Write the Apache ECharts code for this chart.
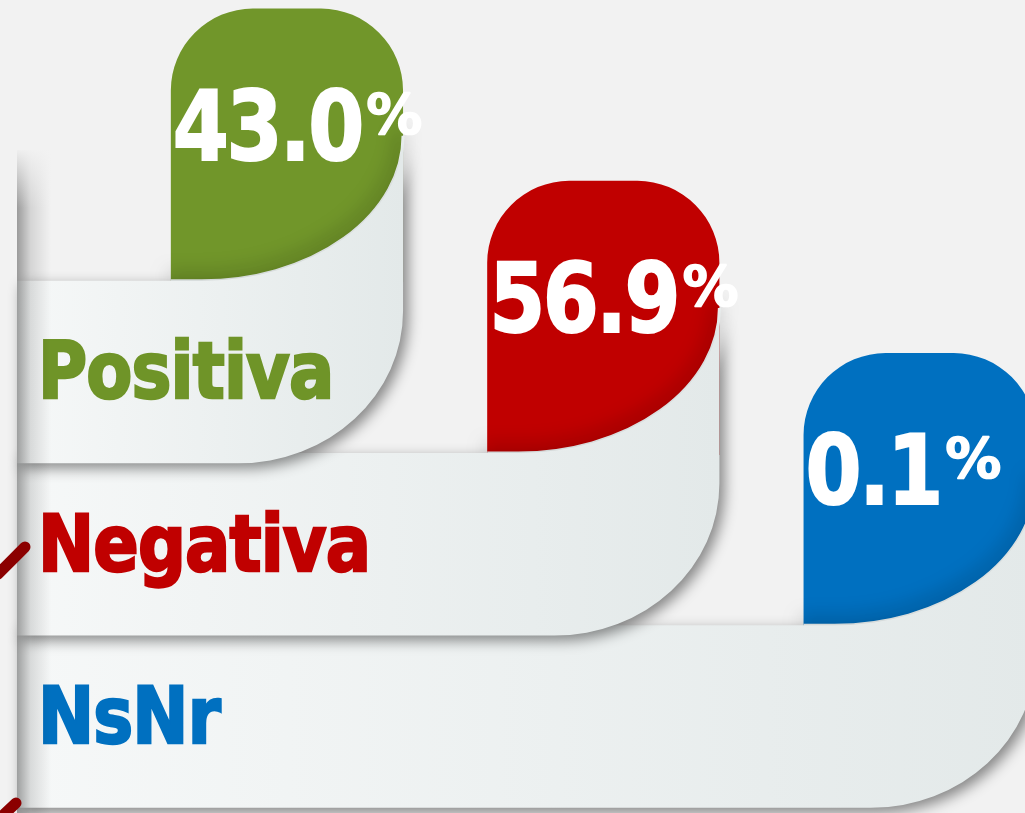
<!DOCTYPE html>
<html><head><meta charset="utf-8">
<script src="https://cdn.jsdelivr.net/npm/echarts@6/dist/echarts.min.js"></script>
<style>html,body{margin:0;padding:0;background:#f2f2f2}#c{width:1025px;height:813px}</style>
</head><body><div id="c"></div>
<script>
const categories = ['Positiva', 'Negativa', 'NsNr'];
const values = [43.0, 56.9, 0.1];
const valueSuffix = '%';
const tabColors = ['#71962a', '#c00000', '#0070c0'];
const labelColors = ['#6f9428', '#c00000', '#0070c0'];

const FONT = '"DejaVu Sans", Verdana, sans-serif';
const SPINE_X = 17;
const mctx = document.createElement('canvas').getContext('2d');

// text drawn char by char with tighter spacing and horizontal squeeze (Tahoma-like look)
function spaced(str, x, y, size, spacing, scaleX, style) {
  const font = 'bold ' + size + 'px ' + FONT;
  mctx.font = font;
  const children = [];
  let cx = 0;
  for (const ch of str) {
    children.push({type: 'text', style: Object.assign({text: ch, x: cx, y: y, font: font, align: 'left', verticalAlign: 'middle'}, style)});
    cx += mctx.measureText(ch).width + spacing;
  }
  return {el: {type: 'group', x: x, y: 0, scaleX: scaleX, children: children}, end: x + (cx - spacing) * scaleX};
}

function renderItem(params, api) {
  const i = api.value(0), row = api.value(1), v = api.value(2);
  const p = api.coord([i, row]);
  const tabL = p[0], yc = p[1];
  const sz = api.size([1, 1]);
  const sx = sz[0], sy = sz[1];
  const tabW = sx * 0.734;
  const R = tabL + tabW;
  const half = sy * 0.53;
  const pT = yc - half, pB = yc + half;
  const tabT = yc - sy * 2.11;
  const L = SPINE_X;
  const cxE = tabL + 31, rx = R - cxE, ry = 145, cyE = pT - ry;
  const crx = 165, cry = 152;

  const children = [];
  children.push({type: 'rect', shape: {x: tabL, y: tabT, width: tabW, height: pT - tabT + 2, r: [82, 82, 0, 0]},
    style: {fill: tabColors[i]}});
  children.push({type: 'path', shape: {pathData: `M ${tabL} ${pT} L ${cxE} ${pT} A ${rx} ${ry} 0 0 0 ${R} ${cyE}`},
    style: {fill: 'none', stroke: '#e8eded', lineWidth: 3, shadowBlur: 18, shadowColor: 'rgba(0,0,0,0.6)', shadowOffsetX: -3, shadowOffsetY: -5}});
  children.push({type: 'path', shape: {pathData:
    `M ${L} ${pT} L ${cxE} ${pT} A ${rx} ${ry} 0 0 0 ${R} ${cyE} L ${R} ${pB - cry} A ${crx} ${cry} 0 0 1 ${R - crx} ${pB} L ${L} ${pB} Z`},
    style: {fill: new echarts.graphic.LinearGradient(0, 0, 1, 0, [{offset: 0, color: '#f6f8f8'}, {offset: 1, color: '#e3e9e9'}]),
      shadowBlur: 14, shadowColor: 'rgba(0,0,0,0.45)', shadowOffsetX: 5, shadowOffsetY: 5}});

  const lab = spaced(categories[i], 38, yc + 29 - 23, 78, -1, 0.86,
    {fill: labelColors[i], stroke: labelColors[i], lineWidth: 2.5, lineJoin: 'round'});
  children.push(lab.el);

  const numBase = yc - 208;
  const shadow = {fill: '#ffffff', stroke: '#ffffff', lineWidth: 2, lineJoin: 'round',
    shadowBlur: 4, shadowColor: 'rgba(0,0,0,0.5)', shadowOffsetX: 3, shadowOffsetY: 3};
  const num = spaced(v.toFixed(1), tabL + 2, numBase - 29, 96, -3, 0.84, shadow);
  children.push(num.el);
  const pct = spaced(valueSuffix, num.end + 2, numBase - 46, 56, 0, 1,
    Object.assign({}, shadow, {lineWidth: 1.5}));
  children.push(pct.el);

  return {type: 'group', children: children};
}

const data = categories.map((c, i) => [i, i, values[i]]).reverse();

const chart = echarts.init(document.getElementById('c'), null, {renderer: 'canvas'});
chart.setOption({
  backgroundColor: '#f2f2f2',
  animation: false,
  grid: {left: 0, right: 0, top: 0, bottom: 0},
  xAxis: {type: 'value', min: -0.54, max: 2.70, show: false},
  yAxis: {type: 'value', inverse: true, min: -2.16, max: 2.56, show: false},
  series: [{type: 'custom', renderItem: renderItem, data: data, clip: false}],
  graphic: [
    {type: 'rect', z: 100, shape: {x: SPINE_X, y: 150, width: 34, height: 663},
      style: {fill: new echarts.graphic.LinearGradient(0, 0, 1, 0, [{offset: 0, color: 'rgba(0,0,0,0.36)'}, {offset: 0.4, color: 'rgba(0,0,0,0.12)'}, {offset: 1, color: 'rgba(0,0,0,0)'}])}},
    {type: 'rect', z: 101, shape: {x: SPINE_X, y: 148, width: 36, height: 60},
      style: {fill: new echarts.graphic.LinearGradient(0, 0, 0, 1, [{offset: 0, color: 'rgba(242,242,242,1)'}, {offset: 1, color: 'rgba(242,242,242,0)'}])}},
    {type: 'line', z: 102, shape: {x1: -2, y1: 574, x2: 25, y2: 547}, style: {stroke: '#8b0000', lineWidth: 11, lineCap: 'round'}},
    {type: 'line', z: 102, shape: {x1: -3, y1: 821, x2: 16, y2: 803}, style: {stroke: '#8b0000', lineWidth: 11, lineCap: 'round'}}
  ]
});
</script></body></html>
